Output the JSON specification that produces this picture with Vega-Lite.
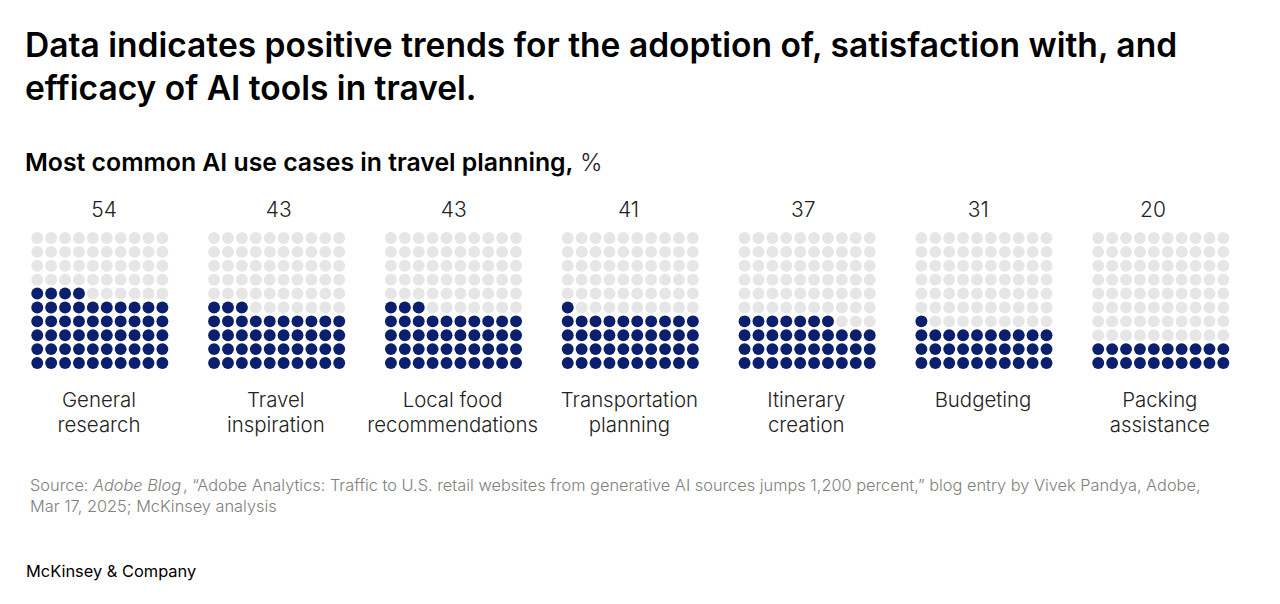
{"$schema":"https://vega.github.io/schema/vega-lite/v6.json","autosize":{"type":"fit","contains":"padding"},"width":1280,"height":604,"padding":0,"background":"white","config":{"view":{"stroke":null},"text":{"font":"Inter"}},
"datasets":{"panels":[{"p":1,"pct":54,"label":"General\nresearch"},{"p":2,"pct":43,"label":"Travel\ninspiration"},{"p":3,"pct":43,"label":"Local food\nrecommendations"},{"p":4,"pct":41,"label":"Transportation\nplanning"},{"p":5,"pct":37,"label":"Itinerary\ncreation"},{"p":6,"pct":31,"label":"Budgeting"},{"p":7,"pct":20,"label":"Packing\nassistance"}],
"dots":[
{"p":1,"col":1,"row":1,"on":1},{"p":1,"col":2,"row":1,"on":1},{"p":1,"col":3,"row":1,"on":1},{"p":1,"col":4,"row":1,"on":1},{"p":1,"col":5,"row":1,"on":1},{"p":1,"col":6,"row":1,"on":1},{"p":1,"col":7,"row":1,"on":1},{"p":1,"col":8,"row":1,"on":1},{"p":1,"col":9,"row":1,"on":1},{"p":1,"col":10,"row":1,"on":1},
{"p":1,"col":1,"row":2,"on":1},{"p":1,"col":2,"row":2,"on":1},{"p":1,"col":3,"row":2,"on":1},{"p":1,"col":4,"row":2,"on":1},{"p":1,"col":5,"row":2,"on":1},{"p":1,"col":6,"row":2,"on":1},{"p":1,"col":7,"row":2,"on":1},{"p":1,"col":8,"row":2,"on":1},{"p":1,"col":9,"row":2,"on":1},{"p":1,"col":10,"row":2,"on":1},
{"p":1,"col":1,"row":3,"on":1},{"p":1,"col":2,"row":3,"on":1},{"p":1,"col":3,"row":3,"on":1},{"p":1,"col":4,"row":3,"on":1},{"p":1,"col":5,"row":3,"on":1},{"p":1,"col":6,"row":3,"on":1},{"p":1,"col":7,"row":3,"on":1},{"p":1,"col":8,"row":3,"on":1},{"p":1,"col":9,"row":3,"on":1},{"p":1,"col":10,"row":3,"on":1},
{"p":1,"col":1,"row":4,"on":1},{"p":1,"col":2,"row":4,"on":1},{"p":1,"col":3,"row":4,"on":1},{"p":1,"col":4,"row":4,"on":1},{"p":1,"col":5,"row":4,"on":1},{"p":1,"col":6,"row":4,"on":1},{"p":1,"col":7,"row":4,"on":1},{"p":1,"col":8,"row":4,"on":1},{"p":1,"col":9,"row":4,"on":1},{"p":1,"col":10,"row":4,"on":1},
{"p":1,"col":1,"row":5,"on":1},{"p":1,"col":2,"row":5,"on":1},{"p":1,"col":3,"row":5,"on":1},{"p":1,"col":4,"row":5,"on":1},{"p":1,"col":5,"row":5,"on":1},{"p":1,"col":6,"row":5,"on":1},{"p":1,"col":7,"row":5,"on":1},{"p":1,"col":8,"row":5,"on":1},{"p":1,"col":9,"row":5,"on":1},{"p":1,"col":10,"row":5,"on":1},
{"p":1,"col":1,"row":6,"on":1},{"p":1,"col":2,"row":6,"on":1},{"p":1,"col":3,"row":6,"on":1},{"p":1,"col":4,"row":6,"on":1},{"p":1,"col":5,"row":6,"on":0},{"p":1,"col":6,"row":6,"on":0},{"p":1,"col":7,"row":6,"on":0},{"p":1,"col":8,"row":6,"on":0},{"p":1,"col":9,"row":6,"on":0},{"p":1,"col":10,"row":6,"on":0},
{"p":1,"col":1,"row":7,"on":0},{"p":1,"col":2,"row":7,"on":0},{"p":1,"col":3,"row":7,"on":0},{"p":1,"col":4,"row":7,"on":0},{"p":1,"col":5,"row":7,"on":0},{"p":1,"col":6,"row":7,"on":0},{"p":1,"col":7,"row":7,"on":0},{"p":1,"col":8,"row":7,"on":0},{"p":1,"col":9,"row":7,"on":0},{"p":1,"col":10,"row":7,"on":0},
{"p":1,"col":1,"row":8,"on":0},{"p":1,"col":2,"row":8,"on":0},{"p":1,"col":3,"row":8,"on":0},{"p":1,"col":4,"row":8,"on":0},{"p":1,"col":5,"row":8,"on":0},{"p":1,"col":6,"row":8,"on":0},{"p":1,"col":7,"row":8,"on":0},{"p":1,"col":8,"row":8,"on":0},{"p":1,"col":9,"row":8,"on":0},{"p":1,"col":10,"row":8,"on":0},
{"p":1,"col":1,"row":9,"on":0},{"p":1,"col":2,"row":9,"on":0},{"p":1,"col":3,"row":9,"on":0},{"p":1,"col":4,"row":9,"on":0},{"p":1,"col":5,"row":9,"on":0},{"p":1,"col":6,"row":9,"on":0},{"p":1,"col":7,"row":9,"on":0},{"p":1,"col":8,"row":9,"on":0},{"p":1,"col":9,"row":9,"on":0},{"p":1,"col":10,"row":9,"on":0},
{"p":1,"col":1,"row":10,"on":0},{"p":1,"col":2,"row":10,"on":0},{"p":1,"col":3,"row":10,"on":0},{"p":1,"col":4,"row":10,"on":0},{"p":1,"col":5,"row":10,"on":0},{"p":1,"col":6,"row":10,"on":0},{"p":1,"col":7,"row":10,"on":0},{"p":1,"col":8,"row":10,"on":0},{"p":1,"col":9,"row":10,"on":0},{"p":1,"col":10,"row":10,"on":0},
{"p":2,"col":1,"row":1,"on":1},{"p":2,"col":2,"row":1,"on":1},{"p":2,"col":3,"row":1,"on":1},{"p":2,"col":4,"row":1,"on":1},{"p":2,"col":5,"row":1,"on":1},{"p":2,"col":6,"row":1,"on":1},{"p":2,"col":7,"row":1,"on":1},{"p":2,"col":8,"row":1,"on":1},{"p":2,"col":9,"row":1,"on":1},{"p":2,"col":10,"row":1,"on":1},
{"p":2,"col":1,"row":2,"on":1},{"p":2,"col":2,"row":2,"on":1},{"p":2,"col":3,"row":2,"on":1},{"p":2,"col":4,"row":2,"on":1},{"p":2,"col":5,"row":2,"on":1},{"p":2,"col":6,"row":2,"on":1},{"p":2,"col":7,"row":2,"on":1},{"p":2,"col":8,"row":2,"on":1},{"p":2,"col":9,"row":2,"on":1},{"p":2,"col":10,"row":2,"on":1},
{"p":2,"col":1,"row":3,"on":1},{"p":2,"col":2,"row":3,"on":1},{"p":2,"col":3,"row":3,"on":1},{"p":2,"col":4,"row":3,"on":1},{"p":2,"col":5,"row":3,"on":1},{"p":2,"col":6,"row":3,"on":1},{"p":2,"col":7,"row":3,"on":1},{"p":2,"col":8,"row":3,"on":1},{"p":2,"col":9,"row":3,"on":1},{"p":2,"col":10,"row":3,"on":1},
{"p":2,"col":1,"row":4,"on":1},{"p":2,"col":2,"row":4,"on":1},{"p":2,"col":3,"row":4,"on":1},{"p":2,"col":4,"row":4,"on":1},{"p":2,"col":5,"row":4,"on":1},{"p":2,"col":6,"row":4,"on":1},{"p":2,"col":7,"row":4,"on":1},{"p":2,"col":8,"row":4,"on":1},{"p":2,"col":9,"row":4,"on":1},{"p":2,"col":10,"row":4,"on":1},
{"p":2,"col":1,"row":5,"on":1},{"p":2,"col":2,"row":5,"on":1},{"p":2,"col":3,"row":5,"on":1},{"p":2,"col":4,"row":5,"on":0},{"p":2,"col":5,"row":5,"on":0},{"p":2,"col":6,"row":5,"on":0},{"p":2,"col":7,"row":5,"on":0},{"p":2,"col":8,"row":5,"on":0},{"p":2,"col":9,"row":5,"on":0},{"p":2,"col":10,"row":5,"on":0},
{"p":2,"col":1,"row":6,"on":0},{"p":2,"col":2,"row":6,"on":0},{"p":2,"col":3,"row":6,"on":0},{"p":2,"col":4,"row":6,"on":0},{"p":2,"col":5,"row":6,"on":0},{"p":2,"col":6,"row":6,"on":0},{"p":2,"col":7,"row":6,"on":0},{"p":2,"col":8,"row":6,"on":0},{"p":2,"col":9,"row":6,"on":0},{"p":2,"col":10,"row":6,"on":0},
{"p":2,"col":1,"row":7,"on":0},{"p":2,"col":2,"row":7,"on":0},{"p":2,"col":3,"row":7,"on":0},{"p":2,"col":4,"row":7,"on":0},{"p":2,"col":5,"row":7,"on":0},{"p":2,"col":6,"row":7,"on":0},{"p":2,"col":7,"row":7,"on":0},{"p":2,"col":8,"row":7,"on":0},{"p":2,"col":9,"row":7,"on":0},{"p":2,"col":10,"row":7,"on":0},
{"p":2,"col":1,"row":8,"on":0},{"p":2,"col":2,"row":8,"on":0},{"p":2,"col":3,"row":8,"on":0},{"p":2,"col":4,"row":8,"on":0},{"p":2,"col":5,"row":8,"on":0},{"p":2,"col":6,"row":8,"on":0},{"p":2,"col":7,"row":8,"on":0},{"p":2,"col":8,"row":8,"on":0},{"p":2,"col":9,"row":8,"on":0},{"p":2,"col":10,"row":8,"on":0},
{"p":2,"col":1,"row":9,"on":0},{"p":2,"col":2,"row":9,"on":0},{"p":2,"col":3,"row":9,"on":0},{"p":2,"col":4,"row":9,"on":0},{"p":2,"col":5,"row":9,"on":0},{"p":2,"col":6,"row":9,"on":0},{"p":2,"col":7,"row":9,"on":0},{"p":2,"col":8,"row":9,"on":0},{"p":2,"col":9,"row":9,"on":0},{"p":2,"col":10,"row":9,"on":0},
{"p":2,"col":1,"row":10,"on":0},{"p":2,"col":2,"row":10,"on":0},{"p":2,"col":3,"row":10,"on":0},{"p":2,"col":4,"row":10,"on":0},{"p":2,"col":5,"row":10,"on":0},{"p":2,"col":6,"row":10,"on":0},{"p":2,"col":7,"row":10,"on":0},{"p":2,"col":8,"row":10,"on":0},{"p":2,"col":9,"row":10,"on":0},{"p":2,"col":10,"row":10,"on":0},
{"p":3,"col":1,"row":1,"on":1},{"p":3,"col":2,"row":1,"on":1},{"p":3,"col":3,"row":1,"on":1},{"p":3,"col":4,"row":1,"on":1},{"p":3,"col":5,"row":1,"on":1},{"p":3,"col":6,"row":1,"on":1},{"p":3,"col":7,"row":1,"on":1},{"p":3,"col":8,"row":1,"on":1},{"p":3,"col":9,"row":1,"on":1},{"p":3,"col":10,"row":1,"on":1},
{"p":3,"col":1,"row":2,"on":1},{"p":3,"col":2,"row":2,"on":1},{"p":3,"col":3,"row":2,"on":1},{"p":3,"col":4,"row":2,"on":1},{"p":3,"col":5,"row":2,"on":1},{"p":3,"col":6,"row":2,"on":1},{"p":3,"col":7,"row":2,"on":1},{"p":3,"col":8,"row":2,"on":1},{"p":3,"col":9,"row":2,"on":1},{"p":3,"col":10,"row":2,"on":1},
{"p":3,"col":1,"row":3,"on":1},{"p":3,"col":2,"row":3,"on":1},{"p":3,"col":3,"row":3,"on":1},{"p":3,"col":4,"row":3,"on":1},{"p":3,"col":5,"row":3,"on":1},{"p":3,"col":6,"row":3,"on":1},{"p":3,"col":7,"row":3,"on":1},{"p":3,"col":8,"row":3,"on":1},{"p":3,"col":9,"row":3,"on":1},{"p":3,"col":10,"row":3,"on":1},
{"p":3,"col":1,"row":4,"on":1},{"p":3,"col":2,"row":4,"on":1},{"p":3,"col":3,"row":4,"on":1},{"p":3,"col":4,"row":4,"on":1},{"p":3,"col":5,"row":4,"on":1},{"p":3,"col":6,"row":4,"on":1},{"p":3,"col":7,"row":4,"on":1},{"p":3,"col":8,"row":4,"on":1},{"p":3,"col":9,"row":4,"on":1},{"p":3,"col":10,"row":4,"on":1},
{"p":3,"col":1,"row":5,"on":1},{"p":3,"col":2,"row":5,"on":1},{"p":3,"col":3,"row":5,"on":1},{"p":3,"col":4,"row":5,"on":0},{"p":3,"col":5,"row":5,"on":0},{"p":3,"col":6,"row":5,"on":0},{"p":3,"col":7,"row":5,"on":0},{"p":3,"col":8,"row":5,"on":0},{"p":3,"col":9,"row":5,"on":0},{"p":3,"col":10,"row":5,"on":0},
{"p":3,"col":1,"row":6,"on":0},{"p":3,"col":2,"row":6,"on":0},{"p":3,"col":3,"row":6,"on":0},{"p":3,"col":4,"row":6,"on":0},{"p":3,"col":5,"row":6,"on":0},{"p":3,"col":6,"row":6,"on":0},{"p":3,"col":7,"row":6,"on":0},{"p":3,"col":8,"row":6,"on":0},{"p":3,"col":9,"row":6,"on":0},{"p":3,"col":10,"row":6,"on":0},
{"p":3,"col":1,"row":7,"on":0},{"p":3,"col":2,"row":7,"on":0},{"p":3,"col":3,"row":7,"on":0},{"p":3,"col":4,"row":7,"on":0},{"p":3,"col":5,"row":7,"on":0},{"p":3,"col":6,"row":7,"on":0},{"p":3,"col":7,"row":7,"on":0},{"p":3,"col":8,"row":7,"on":0},{"p":3,"col":9,"row":7,"on":0},{"p":3,"col":10,"row":7,"on":0},
{"p":3,"col":1,"row":8,"on":0},{"p":3,"col":2,"row":8,"on":0},{"p":3,"col":3,"row":8,"on":0},{"p":3,"col":4,"row":8,"on":0},{"p":3,"col":5,"row":8,"on":0},{"p":3,"col":6,"row":8,"on":0},{"p":3,"col":7,"row":8,"on":0},{"p":3,"col":8,"row":8,"on":0},{"p":3,"col":9,"row":8,"on":0},{"p":3,"col":10,"row":8,"on":0},
{"p":3,"col":1,"row":9,"on":0},{"p":3,"col":2,"row":9,"on":0},{"p":3,"col":3,"row":9,"on":0},{"p":3,"col":4,"row":9,"on":0},{"p":3,"col":5,"row":9,"on":0},{"p":3,"col":6,"row":9,"on":0},{"p":3,"col":7,"row":9,"on":0},{"p":3,"col":8,"row":9,"on":0},{"p":3,"col":9,"row":9,"on":0},{"p":3,"col":10,"row":9,"on":0},
{"p":3,"col":1,"row":10,"on":0},{"p":3,"col":2,"row":10,"on":0},{"p":3,"col":3,"row":10,"on":0},{"p":3,"col":4,"row":10,"on":0},{"p":3,"col":5,"row":10,"on":0},{"p":3,"col":6,"row":10,"on":0},{"p":3,"col":7,"row":10,"on":0},{"p":3,"col":8,"row":10,"on":0},{"p":3,"col":9,"row":10,"on":0},{"p":3,"col":10,"row":10,"on":0},
{"p":4,"col":1,"row":1,"on":1},{"p":4,"col":2,"row":1,"on":1},{"p":4,"col":3,"row":1,"on":1},{"p":4,"col":4,"row":1,"on":1},{"p":4,"col":5,"row":1,"on":1},{"p":4,"col":6,"row":1,"on":1},{"p":4,"col":7,"row":1,"on":1},{"p":4,"col":8,"row":1,"on":1},{"p":4,"col":9,"row":1,"on":1},{"p":4,"col":10,"row":1,"on":1},
{"p":4,"col":1,"row":2,"on":1},{"p":4,"col":2,"row":2,"on":1},{"p":4,"col":3,"row":2,"on":1},{"p":4,"col":4,"row":2,"on":1},{"p":4,"col":5,"row":2,"on":1},{"p":4,"col":6,"row":2,"on":1},{"p":4,"col":7,"row":2,"on":1},{"p":4,"col":8,"row":2,"on":1},{"p":4,"col":9,"row":2,"on":1},{"p":4,"col":10,"row":2,"on":1},
{"p":4,"col":1,"row":3,"on":1},{"p":4,"col":2,"row":3,"on":1},{"p":4,"col":3,"row":3,"on":1},{"p":4,"col":4,"row":3,"on":1},{"p":4,"col":5,"row":3,"on":1},{"p":4,"col":6,"row":3,"on":1},{"p":4,"col":7,"row":3,"on":1},{"p":4,"col":8,"row":3,"on":1},{"p":4,"col":9,"row":3,"on":1},{"p":4,"col":10,"row":3,"on":1},
{"p":4,"col":1,"row":4,"on":1},{"p":4,"col":2,"row":4,"on":1},{"p":4,"col":3,"row":4,"on":1},{"p":4,"col":4,"row":4,"on":1},{"p":4,"col":5,"row":4,"on":1},{"p":4,"col":6,"row":4,"on":1},{"p":4,"col":7,"row":4,"on":1},{"p":4,"col":8,"row":4,"on":1},{"p":4,"col":9,"row":4,"on":1},{"p":4,"col":10,"row":4,"on":1},
{"p":4,"col":1,"row":5,"on":1},{"p":4,"col":2,"row":5,"on":0},{"p":4,"col":3,"row":5,"on":0},{"p":4,"col":4,"row":5,"on":0},{"p":4,"col":5,"row":5,"on":0},{"p":4,"col":6,"row":5,"on":0},{"p":4,"col":7,"row":5,"on":0},{"p":4,"col":8,"row":5,"on":0},{"p":4,"col":9,"row":5,"on":0},{"p":4,"col":10,"row":5,"on":0},
{"p":4,"col":1,"row":6,"on":0},{"p":4,"col":2,"row":6,"on":0},{"p":4,"col":3,"row":6,"on":0},{"p":4,"col":4,"row":6,"on":0},{"p":4,"col":5,"row":6,"on":0},{"p":4,"col":6,"row":6,"on":0},{"p":4,"col":7,"row":6,"on":0},{"p":4,"col":8,"row":6,"on":0},{"p":4,"col":9,"row":6,"on":0},{"p":4,"col":10,"row":6,"on":0},
{"p":4,"col":1,"row":7,"on":0},{"p":4,"col":2,"row":7,"on":0},{"p":4,"col":3,"row":7,"on":0},{"p":4,"col":4,"row":7,"on":0},{"p":4,"col":5,"row":7,"on":0},{"p":4,"col":6,"row":7,"on":0},{"p":4,"col":7,"row":7,"on":0},{"p":4,"col":8,"row":7,"on":0},{"p":4,"col":9,"row":7,"on":0},{"p":4,"col":10,"row":7,"on":0},
{"p":4,"col":1,"row":8,"on":0},{"p":4,"col":2,"row":8,"on":0},{"p":4,"col":3,"row":8,"on":0},{"p":4,"col":4,"row":8,"on":0},{"p":4,"col":5,"row":8,"on":0},{"p":4,"col":6,"row":8,"on":0},{"p":4,"col":7,"row":8,"on":0},{"p":4,"col":8,"row":8,"on":0},{"p":4,"col":9,"row":8,"on":0},{"p":4,"col":10,"row":8,"on":0},
{"p":4,"col":1,"row":9,"on":0},{"p":4,"col":2,"row":9,"on":0},{"p":4,"col":3,"row":9,"on":0},{"p":4,"col":4,"row":9,"on":0},{"p":4,"col":5,"row":9,"on":0},{"p":4,"col":6,"row":9,"on":0},{"p":4,"col":7,"row":9,"on":0},{"p":4,"col":8,"row":9,"on":0},{"p":4,"col":9,"row":9,"on":0},{"p":4,"col":10,"row":9,"on":0},
{"p":4,"col":1,"row":10,"on":0},{"p":4,"col":2,"row":10,"on":0},{"p":4,"col":3,"row":10,"on":0},{"p":4,"col":4,"row":10,"on":0},{"p":4,"col":5,"row":10,"on":0},{"p":4,"col":6,"row":10,"on":0},{"p":4,"col":7,"row":10,"on":0},{"p":4,"col":8,"row":10,"on":0},{"p":4,"col":9,"row":10,"on":0},{"p":4,"col":10,"row":10,"on":0},
{"p":5,"col":1,"row":1,"on":1},{"p":5,"col":2,"row":1,"on":1},{"p":5,"col":3,"row":1,"on":1},{"p":5,"col":4,"row":1,"on":1},{"p":5,"col":5,"row":1,"on":1},{"p":5,"col":6,"row":1,"on":1},{"p":5,"col":7,"row":1,"on":1},{"p":5,"col":8,"row":1,"on":1},{"p":5,"col":9,"row":1,"on":1},{"p":5,"col":10,"row":1,"on":1},
{"p":5,"col":1,"row":2,"on":1},{"p":5,"col":2,"row":2,"on":1},{"p":5,"col":3,"row":2,"on":1},{"p":5,"col":4,"row":2,"on":1},{"p":5,"col":5,"row":2,"on":1},{"p":5,"col":6,"row":2,"on":1},{"p":5,"col":7,"row":2,"on":1},{"p":5,"col":8,"row":2,"on":1},{"p":5,"col":9,"row":2,"on":1},{"p":5,"col":10,"row":2,"on":1},
{"p":5,"col":1,"row":3,"on":1},{"p":5,"col":2,"row":3,"on":1},{"p":5,"col":3,"row":3,"on":1},{"p":5,"col":4,"row":3,"on":1},{"p":5,"col":5,"row":3,"on":1},{"p":5,"col":6,"row":3,"on":1},{"p":5,"col":7,"row":3,"on":1},{"p":5,"col":8,"row":3,"on":1},{"p":5,"col":9,"row":3,"on":1},{"p":5,"col":10,"row":3,"on":1},
{"p":5,"col":1,"row":4,"on":1},{"p":5,"col":2,"row":4,"on":1},{"p":5,"col":3,"row":4,"on":1},{"p":5,"col":4,"row":4,"on":1},{"p":5,"col":5,"row":4,"on":1},{"p":5,"col":6,"row":4,"on":1},{"p":5,"col":7,"row":4,"on":1},{"p":5,"col":8,"row":4,"on":0},{"p":5,"col":9,"row":4,"on":0},{"p":5,"col":10,"row":4,"on":0},
{"p":5,"col":1,"row":5,"on":0},{"p":5,"col":2,"row":5,"on":0},{"p":5,"col":3,"row":5,"on":0},{"p":5,"col":4,"row":5,"on":0},{"p":5,"col":5,"row":5,"on":0},{"p":5,"col":6,"row":5,"on":0},{"p":5,"col":7,"row":5,"on":0},{"p":5,"col":8,"row":5,"on":0},{"p":5,"col":9,"row":5,"on":0},{"p":5,"col":10,"row":5,"on":0},
{"p":5,"col":1,"row":6,"on":0},{"p":5,"col":2,"row":6,"on":0},{"p":5,"col":3,"row":6,"on":0},{"p":5,"col":4,"row":6,"on":0},{"p":5,"col":5,"row":6,"on":0},{"p":5,"col":6,"row":6,"on":0},{"p":5,"col":7,"row":6,"on":0},{"p":5,"col":8,"row":6,"on":0},{"p":5,"col":9,"row":6,"on":0},{"p":5,"col":10,"row":6,"on":0},
{"p":5,"col":1,"row":7,"on":0},{"p":5,"col":2,"row":7,"on":0},{"p":5,"col":3,"row":7,"on":0},{"p":5,"col":4,"row":7,"on":0},{"p":5,"col":5,"row":7,"on":0},{"p":5,"col":6,"row":7,"on":0},{"p":5,"col":7,"row":7,"on":0},{"p":5,"col":8,"row":7,"on":0},{"p":5,"col":9,"row":7,"on":0},{"p":5,"col":10,"row":7,"on":0},
{"p":5,"col":1,"row":8,"on":0},{"p":5,"col":2,"row":8,"on":0},{"p":5,"col":3,"row":8,"on":0},{"p":5,"col":4,"row":8,"on":0},{"p":5,"col":5,"row":8,"on":0},{"p":5,"col":6,"row":8,"on":0},{"p":5,"col":7,"row":8,"on":0},{"p":5,"col":8,"row":8,"on":0},{"p":5,"col":9,"row":8,"on":0},{"p":5,"col":10,"row":8,"on":0},
{"p":5,"col":1,"row":9,"on":0},{"p":5,"col":2,"row":9,"on":0},{"p":5,"col":3,"row":9,"on":0},{"p":5,"col":4,"row":9,"on":0},{"p":5,"col":5,"row":9,"on":0},{"p":5,"col":6,"row":9,"on":0},{"p":5,"col":7,"row":9,"on":0},{"p":5,"col":8,"row":9,"on":0},{"p":5,"col":9,"row":9,"on":0},{"p":5,"col":10,"row":9,"on":0},
{"p":5,"col":1,"row":10,"on":0},{"p":5,"col":2,"row":10,"on":0},{"p":5,"col":3,"row":10,"on":0},{"p":5,"col":4,"row":10,"on":0},{"p":5,"col":5,"row":10,"on":0},{"p":5,"col":6,"row":10,"on":0},{"p":5,"col":7,"row":10,"on":0},{"p":5,"col":8,"row":10,"on":0},{"p":5,"col":9,"row":10,"on":0},{"p":5,"col":10,"row":10,"on":0},
{"p":6,"col":1,"row":1,"on":1},{"p":6,"col":2,"row":1,"on":1},{"p":6,"col":3,"row":1,"on":1},{"p":6,"col":4,"row":1,"on":1},{"p":6,"col":5,"row":1,"on":1},{"p":6,"col":6,"row":1,"on":1},{"p":6,"col":7,"row":1,"on":1},{"p":6,"col":8,"row":1,"on":1},{"p":6,"col":9,"row":1,"on":1},{"p":6,"col":10,"row":1,"on":1},
{"p":6,"col":1,"row":2,"on":1},{"p":6,"col":2,"row":2,"on":1},{"p":6,"col":3,"row":2,"on":1},{"p":6,"col":4,"row":2,"on":1},{"p":6,"col":5,"row":2,"on":1},{"p":6,"col":6,"row":2,"on":1},{"p":6,"col":7,"row":2,"on":1},{"p":6,"col":8,"row":2,"on":1},{"p":6,"col":9,"row":2,"on":1},{"p":6,"col":10,"row":2,"on":1},
{"p":6,"col":1,"row":3,"on":1},{"p":6,"col":2,"row":3,"on":1},{"p":6,"col":3,"row":3,"on":1},{"p":6,"col":4,"row":3,"on":1},{"p":6,"col":5,"row":3,"on":1},{"p":6,"col":6,"row":3,"on":1},{"p":6,"col":7,"row":3,"on":1},{"p":6,"col":8,"row":3,"on":1},{"p":6,"col":9,"row":3,"on":1},{"p":6,"col":10,"row":3,"on":1},
{"p":6,"col":1,"row":4,"on":1},{"p":6,"col":2,"row":4,"on":0},{"p":6,"col":3,"row":4,"on":0},{"p":6,"col":4,"row":4,"on":0},{"p":6,"col":5,"row":4,"on":0},{"p":6,"col":6,"row":4,"on":0},{"p":6,"col":7,"row":4,"on":0},{"p":6,"col":8,"row":4,"on":0},{"p":6,"col":9,"row":4,"on":0},{"p":6,"col":10,"row":4,"on":0},
{"p":6,"col":1,"row":5,"on":0},{"p":6,"col":2,"row":5,"on":0},{"p":6,"col":3,"row":5,"on":0},{"p":6,"col":4,"row":5,"on":0},{"p":6,"col":5,"row":5,"on":0},{"p":6,"col":6,"row":5,"on":0},{"p":6,"col":7,"row":5,"on":0},{"p":6,"col":8,"row":5,"on":0},{"p":6,"col":9,"row":5,"on":0},{"p":6,"col":10,"row":5,"on":0},
{"p":6,"col":1,"row":6,"on":0},{"p":6,"col":2,"row":6,"on":0},{"p":6,"col":3,"row":6,"on":0},{"p":6,"col":4,"row":6,"on":0},{"p":6,"col":5,"row":6,"on":0},{"p":6,"col":6,"row":6,"on":0},{"p":6,"col":7,"row":6,"on":0},{"p":6,"col":8,"row":6,"on":0},{"p":6,"col":9,"row":6,"on":0},{"p":6,"col":10,"row":6,"on":0},
{"p":6,"col":1,"row":7,"on":0},{"p":6,"col":2,"row":7,"on":0},{"p":6,"col":3,"row":7,"on":0},{"p":6,"col":4,"row":7,"on":0},{"p":6,"col":5,"row":7,"on":0},{"p":6,"col":6,"row":7,"on":0},{"p":6,"col":7,"row":7,"on":0},{"p":6,"col":8,"row":7,"on":0},{"p":6,"col":9,"row":7,"on":0},{"p":6,"col":10,"row":7,"on":0},
{"p":6,"col":1,"row":8,"on":0},{"p":6,"col":2,"row":8,"on":0},{"p":6,"col":3,"row":8,"on":0},{"p":6,"col":4,"row":8,"on":0},{"p":6,"col":5,"row":8,"on":0},{"p":6,"col":6,"row":8,"on":0},{"p":6,"col":7,"row":8,"on":0},{"p":6,"col":8,"row":8,"on":0},{"p":6,"col":9,"row":8,"on":0},{"p":6,"col":10,"row":8,"on":0},
{"p":6,"col":1,"row":9,"on":0},{"p":6,"col":2,"row":9,"on":0},{"p":6,"col":3,"row":9,"on":0},{"p":6,"col":4,"row":9,"on":0},{"p":6,"col":5,"row":9,"on":0},{"p":6,"col":6,"row":9,"on":0},{"p":6,"col":7,"row":9,"on":0},{"p":6,"col":8,"row":9,"on":0},{"p":6,"col":9,"row":9,"on":0},{"p":6,"col":10,"row":9,"on":0},
{"p":6,"col":1,"row":10,"on":0},{"p":6,"col":2,"row":10,"on":0},{"p":6,"col":3,"row":10,"on":0},{"p":6,"col":4,"row":10,"on":0},{"p":6,"col":5,"row":10,"on":0},{"p":6,"col":6,"row":10,"on":0},{"p":6,"col":7,"row":10,"on":0},{"p":6,"col":8,"row":10,"on":0},{"p":6,"col":9,"row":10,"on":0},{"p":6,"col":10,"row":10,"on":0},
{"p":7,"col":1,"row":1,"on":1},{"p":7,"col":2,"row":1,"on":1},{"p":7,"col":3,"row":1,"on":1},{"p":7,"col":4,"row":1,"on":1},{"p":7,"col":5,"row":1,"on":1},{"p":7,"col":6,"row":1,"on":1},{"p":7,"col":7,"row":1,"on":1},{"p":7,"col":8,"row":1,"on":1},{"p":7,"col":9,"row":1,"on":1},{"p":7,"col":10,"row":1,"on":1},
{"p":7,"col":1,"row":2,"on":1},{"p":7,"col":2,"row":2,"on":1},{"p":7,"col":3,"row":2,"on":1},{"p":7,"col":4,"row":2,"on":1},{"p":7,"col":5,"row":2,"on":1},{"p":7,"col":6,"row":2,"on":1},{"p":7,"col":7,"row":2,"on":1},{"p":7,"col":8,"row":2,"on":1},{"p":7,"col":9,"row":2,"on":1},{"p":7,"col":10,"row":2,"on":1},
{"p":7,"col":1,"row":3,"on":0},{"p":7,"col":2,"row":3,"on":0},{"p":7,"col":3,"row":3,"on":0},{"p":7,"col":4,"row":3,"on":0},{"p":7,"col":5,"row":3,"on":0},{"p":7,"col":6,"row":3,"on":0},{"p":7,"col":7,"row":3,"on":0},{"p":7,"col":8,"row":3,"on":0},{"p":7,"col":9,"row":3,"on":0},{"p":7,"col":10,"row":3,"on":0},
{"p":7,"col":1,"row":4,"on":0},{"p":7,"col":2,"row":4,"on":0},{"p":7,"col":3,"row":4,"on":0},{"p":7,"col":4,"row":4,"on":0},{"p":7,"col":5,"row":4,"on":0},{"p":7,"col":6,"row":4,"on":0},{"p":7,"col":7,"row":4,"on":0},{"p":7,"col":8,"row":4,"on":0},{"p":7,"col":9,"row":4,"on":0},{"p":7,"col":10,"row":4,"on":0},
{"p":7,"col":1,"row":5,"on":0},{"p":7,"col":2,"row":5,"on":0},{"p":7,"col":3,"row":5,"on":0},{"p":7,"col":4,"row":5,"on":0},{"p":7,"col":5,"row":5,"on":0},{"p":7,"col":6,"row":5,"on":0},{"p":7,"col":7,"row":5,"on":0},{"p":7,"col":8,"row":5,"on":0},{"p":7,"col":9,"row":5,"on":0},{"p":7,"col":10,"row":5,"on":0},
{"p":7,"col":1,"row":6,"on":0},{"p":7,"col":2,"row":6,"on":0},{"p":7,"col":3,"row":6,"on":0},{"p":7,"col":4,"row":6,"on":0},{"p":7,"col":5,"row":6,"on":0},{"p":7,"col":6,"row":6,"on":0},{"p":7,"col":7,"row":6,"on":0},{"p":7,"col":8,"row":6,"on":0},{"p":7,"col":9,"row":6,"on":0},{"p":7,"col":10,"row":6,"on":0},
{"p":7,"col":1,"row":7,"on":0},{"p":7,"col":2,"row":7,"on":0},{"p":7,"col":3,"row":7,"on":0},{"p":7,"col":4,"row":7,"on":0},{"p":7,"col":5,"row":7,"on":0},{"p":7,"col":6,"row":7,"on":0},{"p":7,"col":7,"row":7,"on":0},{"p":7,"col":8,"row":7,"on":0},{"p":7,"col":9,"row":7,"on":0},{"p":7,"col":10,"row":7,"on":0},
{"p":7,"col":1,"row":8,"on":0},{"p":7,"col":2,"row":8,"on":0},{"p":7,"col":3,"row":8,"on":0},{"p":7,"col":4,"row":8,"on":0},{"p":7,"col":5,"row":8,"on":0},{"p":7,"col":6,"row":8,"on":0},{"p":7,"col":7,"row":8,"on":0},{"p":7,"col":8,"row":8,"on":0},{"p":7,"col":9,"row":8,"on":0},{"p":7,"col":10,"row":8,"on":0},
{"p":7,"col":1,"row":9,"on":0},{"p":7,"col":2,"row":9,"on":0},{"p":7,"col":3,"row":9,"on":0},{"p":7,"col":4,"row":9,"on":0},{"p":7,"col":5,"row":9,"on":0},{"p":7,"col":6,"row":9,"on":0},{"p":7,"col":7,"row":9,"on":0},{"p":7,"col":8,"row":9,"on":0},{"p":7,"col":9,"row":9,"on":0},{"p":7,"col":10,"row":9,"on":0},
{"p":7,"col":1,"row":10,"on":0},{"p":7,"col":2,"row":10,"on":0},{"p":7,"col":3,"row":10,"on":0},{"p":7,"col":4,"row":10,"on":0},{"p":7,"col":5,"row":10,"on":0},{"p":7,"col":6,"row":10,"on":0},{"p":7,"col":7,"row":10,"on":0},{"p":7,"col":8,"row":10,"on":0},{"p":7,"col":9,"row":10,"on":0},{"p":7,"col":10,"row":10,"on":0}
]},
"resolve":{"scale":{"x":"independent","y":"shared"}},
"layer":[
{"data":{"name":"dots"},"mark":{"type":"circle","size":142,"opacity":1},"encoding":{
"x":{"field":"p","type":"ordinal","axis":null,"scale":{"range":[30.3,1230.3],"paddingInner":0.2138,"paddingOuter":0}},
"xOffset":{"field":"col","type":"ordinal"},
"y":{"field":"row","type":"quantitative","axis":null,"scale":{"domain":[1,10],"range":[363,238],"nice":false,"zero":false}},
"color":{"field":"on","type":"nominal","legend":null,"scale":{"domain":[0,1],"range":["#E6E6E6","#0B1F6E"]}}}},
{"data":{"name":"panels"},"mark":{"type":"text","fontSize":21,"fontWeight":300,"color":"#222222"},"encoding":{
"x":{"field":"p","type":"ordinal","axis":null,"scale":{"range":[16.6,1240.4],"paddingInner":0,"paddingOuter":0}},"y":{"datum":11.95,"type":"quantitative"},"text":{"field":"pct"}}},
{"data":{"name":"panels"},"mark":{"type":"text","fontSize":20.4,"fontWeight":300,"color":"#222222","baseline":"top","lineBreak":"\n","lineHeight":25},"encoding":{
"x":{"field":"p","type":"ordinal","axis":null,"scale":{"range":[10.6,1248.2],"paddingInner":0,"paddingOuter":0}},"y":{"datum":-1.05,"type":"quantitative"},"text":{"field":"label"}}},
{"data":{"values":[{"t":"Data indicates positive trends for the adoption of, satisfaction with, and\nefficacy of AI tools in travel."}]},"mark":{"type":"text","x":25,"y":47,"align":"left","baseline":"middle","fontSize":33.55,"fontWeight":600,"color":"#000000","lineBreak":"\n","lineHeight":43},"encoding":{"text":{"field":"t"}}},
{"data":{"values":[{"t":"Most common AI use cases in travel planning,"}]},"mark":{"type":"text","x":25,"y":164,"align":"left","baseline":"middle","fontSize":24.8,"fontWeight":600,"color":"#000000"},"encoding":{"text":{"field":"t"}}},
{"data":{"values":[{"t":"%"}]},"mark":{"type":"text","x":580,"y":164,"align":"left","baseline":"middle","fontSize":24,"fontWeight":300,"color":"#222222"},"encoding":{"text":{"field":"t"}}},
{"data":{"values":[{"t":"Source:"}]},"mark":{"type":"text","x":30,"y":486,"align":"left","baseline":"middle","fontSize":16.35,"fontWeight":300,"color":"#808080"},"encoding":{"text":{"field":"t"}}},
{"data":{"values":[{"t":"Adobe Blog"}]},"mark":{"type":"text","x":93,"y":486,"align":"left","baseline":"middle","fontSize":16.35,"fontWeight":300,"fontStyle":"italic","color":"#808080"},"encoding":{"text":{"field":"t"}}},
{"data":{"values":[{"t":", “Adobe Analytics: Traffic to U.S. retail websites from generative AI sources jumps 1,200 percent,” blog entry by Vivek Pandya, Adobe,"}]},"mark":{"type":"text","x":183,"y":486,"align":"left","baseline":"middle","fontSize":16.35,"fontWeight":300,"color":"#808080"},"encoding":{"text":{"field":"t"}}},
{"data":{"values":[{"t":"Mar 17, 2025; McKinsey analysis"}]},"mark":{"type":"text","x":30,"y":507,"align":"left","baseline":"middle","fontSize":16.35,"fontWeight":300,"color":"#808080"},"encoding":{"text":{"field":"t"}}},
{"data":{"values":[{"t":"McKinsey & Company"}]},"mark":{"type":"text","x":26,"y":572,"align":"left","baseline":"middle","fontSize":16.4,"fontWeight":400,"color":"#000000"},"encoding":{"text":{"field":"t"}}}
]}
